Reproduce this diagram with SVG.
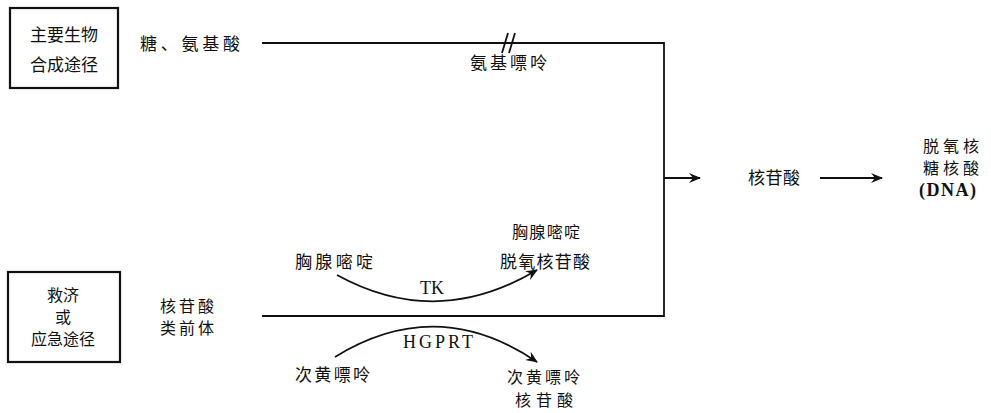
<svg xmlns="http://www.w3.org/2000/svg" width="991" height="413" viewBox="0 0 991 413">
<defs>
<style>
.zh{font-family:"Noto Sans CJK SC","Noto Sans CJK TC",sans-serif;font-size:16px;fill:#111;}
.en{font-family:"Liberation Serif",serif;font-size:18px;fill:#111;}
.box{fill:none;stroke:#111;stroke-width:2.2;}
.ln{fill:none;stroke:#111;stroke-width:1.8;}
</style>
<marker id="ah" viewBox="0 0 12 10" refX="11" refY="5" markerWidth="12" markerHeight="10" markerUnits="userSpaceOnUse" orient="auto">
<path d="M0,0 L12,5 L0,10 L4,5 Z" fill="#111"/>
</marker>
</defs>
<rect width="991" height="413" fill="#fff"/>

<g id="main-path">
<rect class="box" x="10" y="8" width="108" height="80"/>
<text class="zh" x="64" y="41" text-anchor="middle" style="font-size:17px">主要生物</text>
<text class="zh" x="64" y="71" text-anchor="middle" style="font-size:17px">合成途径</text>
</g>

<g id="sugar-aa">
<text class="zh" x="140" y="50" textLength="100" style="font-size:17px">糖、氨基酸</text>
</g>

<g id="salvage-path">
<rect class="box" x="8" y="272" width="112" height="90"/>
<text class="zh" x="63" y="301" text-anchor="middle">救济</text>
<text class="zh" x="63" y="323" text-anchor="middle">或</text>
<text class="zh" x="63" y="345" text-anchor="middle">应急途径</text>
</g>

<g id="precursor">
<text class="zh" x="160" y="312" textLength="54">核苷酸</text>
<text class="zh" x="160" y="334" textLength="54">类前体</text>
</g>

<g id="nucleotide">
<text class="zh" x="748" y="184" textLength="52" style="font-size:17px">核苷酸</text>
</g>

<g id="dna">
<text class="zh" x="923" y="152" textLength="56">脱氧核</text>
<text class="zh" x="923" y="174" textLength="56">糖核酸</text>
<text class="en" x="919" y="196" style="font-weight:bold;letter-spacing:1.5px">(DNA)</text>
</g>

<g id="thymine">
<text class="zh" x="295" y="268" textLength="78" style="font-size:17px">胸腺嘧啶</text>
</g>
<g id="thymidylate">
<text class="zh" x="512" y="238" textLength="68">胸腺嘧啶</text>
<text class="zh" x="500" y="268" textLength="90" style="font-size:17px">脱氧核苷酸</text>
</g>
<g id="hypoxanthine">
<text class="zh" x="295" y="381" textLength="75" style="font-size:17px">次黄嘌呤</text>
</g>
<g id="inosinate">
<text class="zh" x="507" y="383" textLength="73">次黄嘌呤</text>
<text class="zh" x="515" y="406" textLength="58">核苷酸</text>
</g>

<g id="connectors">
<path class="ln" d="M262,43 L664,43 L664,316 L262,316"/>
<path class="ln" d="M502,53 L508,33 M509,53 L515,33"/>
<text class="zh" x="470" y="69" textLength="77" style="font-size:17px">氨基嘌呤</text>
<path class="ln" d="M664,178 L700,178" marker-end="url(#ah)"/>
<path class="ln" d="M820,178 L882,178" marker-end="url(#ah)"/>
<path class="ln" d="M337,275 Q437,330 537,270" marker-end="url(#ah)"/>
<text class="en" x="432" y="294" text-anchor="middle">TK</text>
<path class="ln" d="M335,357 Q437,294 537,362" marker-end="url(#ah)"/>
<text class="en" x="403" y="348" textLength="70">HGPRT</text>
</g>
</svg>
